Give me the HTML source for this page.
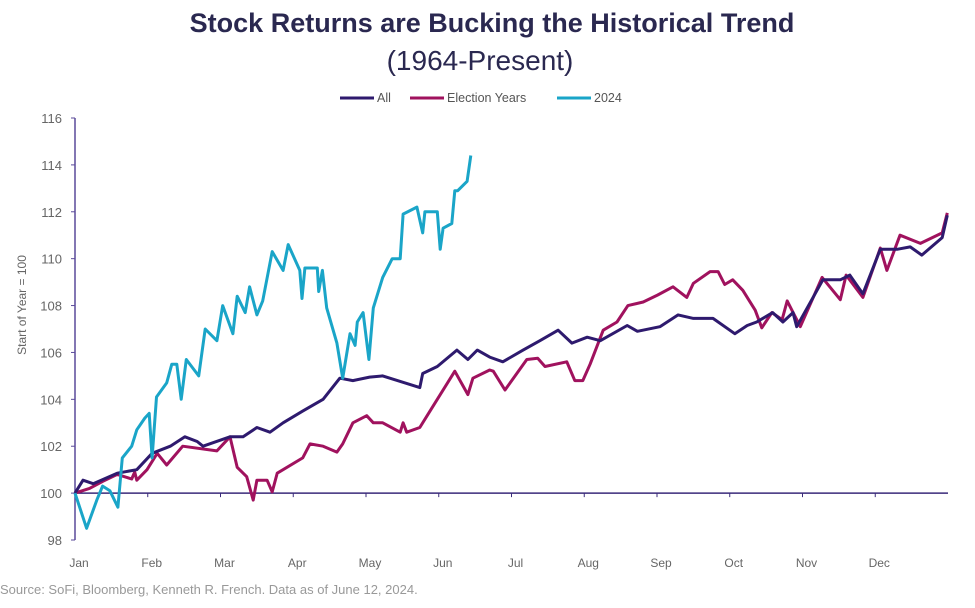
<!DOCTYPE html>
<html><head><meta charset="utf-8"><style>
body{margin:0;background:#fff;font-family:"Liberation Sans",sans-serif}
svg{display:block}
</style></head><body>
<svg id="chart" width="975" height="608">
<text x="492" y="32" text-anchor="middle" font-size="27" font-weight="bold" fill="#2a2850">Stock Returns are Bucking the Historical Trend</text>
<text x="480" y="70" text-anchor="middle" font-size="28" fill="#2a2850">(1964-Present)</text>
<g font-size="12.5" fill="#555">
<g><line x1="340" y1="98" x2="374" y2="98" stroke="#2e1a6e" stroke-width="3"/><text x="377" y="102">All</text></g>
<g><line x1="410" y1="98" x2="444" y2="98" stroke="#a0125e" stroke-width="3"/><text x="447" y="102">Election Years</text></g>
<g><line x1="557" y1="98" x2="591" y2="98" stroke="#1aa5c8" stroke-width="3"/><text x="594" y="102">2024</text></g>
</g>
<text transform="translate(26,305) rotate(-90)" text-anchor="middle" font-size="12" fill="#666">Start of Year = 100</text>
<text x="0" y="594" font-size="13" fill="#999">Source: SoFi, Bloomberg, Kenneth R. French. Data as of June 12, 2024.</text>
<g id="axes"></g>
<g id="series"></g>
</svg>
<script>
const months=["Jan","Feb","Mar","Apr","May","Jun","Jul","Aug","Sep","Oct","Nov","Dec"];
const yTicks=[98,100,102,104,106,108,110,112,114,116];
const allT=[0,.11,.25,.58,.85,1.06,1.31,1.51,1.68,1.76,2.13,2.31,2.5,2.68,2.86,3.13,3.41,3.64,3.82,4.05,4.23,4.74,4.78,4.98,5.25,5.4,5.53,5.7,5.88,6.16,6.39,6.64,6.83,7.04,7.22,7.59,7.73,8.04,8.29,8.5,8.77,9.07,9.24,9.37,9.59,9.73,9.87,9.92,10.28,10.52,10.65,10.83,11.07,11.3,11.48,11.64,11.92,11.99];
const allV=[100,100.55,100.4,100.85,101,101.7,102,102.4,102.2,102,102.4,102.4,102.8,102.6,103,103.5,104,104.9,104.8,104.95,105,104.5,105.1,105.4,106.1,105.7,106.1,105.8,105.6,106.1,106.5,106.95,106.4,106.65,106.5,107.15,106.9,107.1,107.6,107.45,107.45,106.8,107.15,107.3,107.7,107.3,107.7,107.1,109.1,109.1,109.3,108.5,110.4,110.4,110.5,110.15,110.9,111.85];
const elecT=[0,.2,.38,.58,.78,.82,.85,.99,1.13,1.26,1.48,1.95,2.13,2.23,2.36,2.45,2.5,2.64,2.71,2.78,3.13,3.23,3.41,3.6,3.68,3.82,4.01,4.1,4.23,4.47,4.51,4.56,4.74,4.88,5.22,5.4,5.47,5.7,5.75,5.91,6.21,6.36,6.46,6.76,6.87,6.98,7.08,7.26,7.45,7.6,7.81,8.01,8.22,8.41,8.5,8.73,8.84,8.93,9.04,9.18,9.35,9.44,9.58,9.72,9.79,9.97,10.27,10.52,10.6,10.83,11.07,11.16,11.34,11.62,11.92,11.99];
const elecV=[100,100.2,100.5,100.8,100.6,100.9,100.55,101,101.7,101.2,102,101.8,102.4,101.1,100.7,99.7,100.55,100.55,100.05,100.85,101.5,102.1,102,101.75,102.1,103,103.3,103,103,102.6,103,102.6,102.8,103.5,105.2,104.2,104.9,105.25,105.2,104.4,105.7,105.75,105.4,105.6,104.8,104.8,105.5,106.95,107.3,108,108.15,108.45,108.8,108.35,108.95,109.45,109.45,108.9,109.1,108.65,107.8,107.05,107.7,107.4,108.2,107.1,109.2,108.25,109.3,108.35,110.45,109.5,111,110.65,111.1,111.95];
const y24T=[0,.16,.3,.38,.48,.59,.65,.78,.85,.96,1.02,1.06,1.12,1.26,1.33,1.4,1.46,1.53,1.7,1.79,1.95,2.03,2.17,2.23,2.34,2.4,2.5,2.58,2.71,2.86,2.93,3.09,3.12,3.16,3.33,3.35,3.4,3.46,3.6,3.68,3.78,3.85,3.88,3.96,4.04,4.1,4.23,4.36,4.47,4.51,4.7,4.78,4.81,4.98,5.02,5.06,5.18,5.22,5.26,5.39,5.44];
const y24V=[100,98.5,99.7,100.3,100.1,99.4,101.5,102,102.7,103.2,103.4,101.5,104.1,104.7,105.5,105.5,104,105.7,105,107,106.5,108,106.8,108.4,107.7,108.8,107.6,108.2,110.3,109.5,110.6,109.5,108.3,109.6,109.6,108.6,109.5,107.9,106.4,104.9,106.8,106.3,107.3,107.7,105.7,107.9,109.2,110,110,111.9,112.2,111.1,112,112,110.4,111.3,111.5,112.9,112.9,113.3,114.4];
const X0=75,X1=948,Y0=540,Y1=118;
const xs=m=>X0+m*72.75;
const ys=v=>Y0-(v-98)/(116-98)*(Y0-Y1);
const NS="http://www.w3.org/2000/svg";
const axes=document.getElementById('axes'),ser=document.getElementById('series');
function mk(tag,attrs,parent){const e=document.createElementNS(NS,tag);for(const k in attrs)e.setAttribute(k,attrs[k]);parent.appendChild(e);return e;}
const yl=mk('line',{x1:X0,y1:Y1,x2:X0,y2:Y0,stroke:'#5a4a9a','stroke-width':1.5},axes);


const xl=mk('line',{x1:X0,y1:ys(100),x2:X1,y2:ys(100),stroke:'#3a2a7a','stroke-width':1.5},axes);


yTicks.forEach(v=>{
 mk('line',{x1:X0-4,y1:ys(v),x2:X0,y2:ys(v),stroke:'#5a4a9a'},axes);
 const t=mk('text',{x:X0-13,y:ys(v)+5,'text-anchor':'end','font-size':13,fill:'#666'},axes);
 t.textContent=v;
 
 
});
months.forEach((m,i)=>{
 if(i>0)mk('line',{x1:xs(i),y1:ys(100),x2:xs(i),y2:ys(100)+4,stroke:'#3a2a7a'},axes);
 const t=mk('text',{x:xs(i)+4,y:567,'text-anchor':'middle','font-size':12,fill:'#666'},axes);
 t.textContent=m;
 
 
});
function line(T,V,col,name){
 const d=T.map((t,i)=>(i?'L':'M')+xs(t).toFixed(1)+','+ys(V[i]).toFixed(1)).join('');
 const p=mk('path',{d:d,fill:'none',stroke:col,'stroke-width':3,'stroke-linejoin':'round'},ser);
 
 
}
line(elecT,elecV,'#a0125e','election-years-line');
line(allT,allV,'#2e1a6e','all-years-line');
line(y24T,y24V,'#1aa5c8','line-2024');
</script>
</body></html>
